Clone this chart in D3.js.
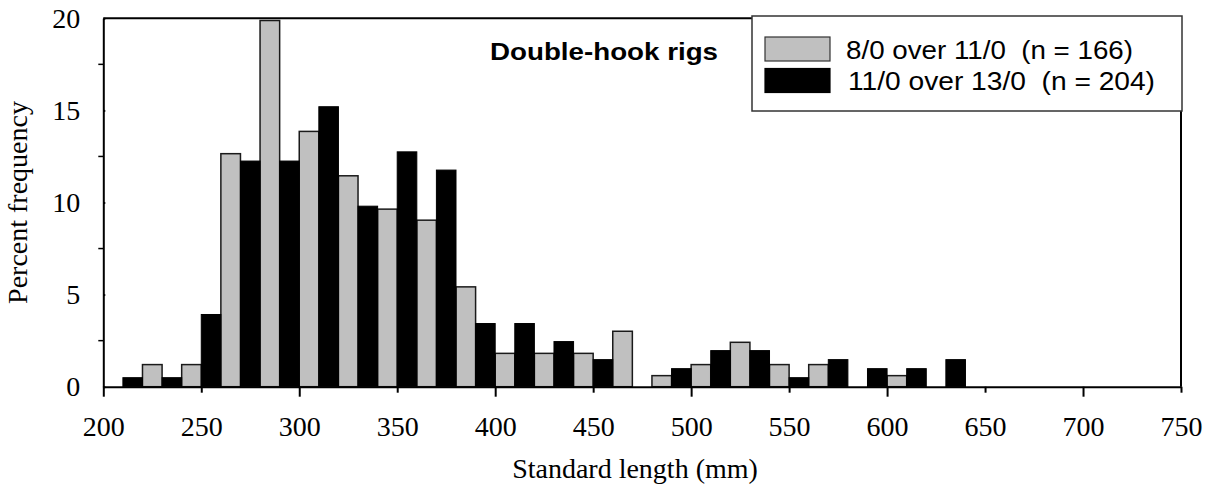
<!DOCTYPE html>
<html>
<head>
<meta charset="utf-8">
<script src="https://cdn.jsdelivr.net/npm/d3@7"></script>
<style>
  body { margin: 0; background: #fff; }
  svg { display: block; }
</style>
</head>
<body>
<div id="chart"></div>
<script>
// 20 mm bins, each bin holds two 10 mm bars (gray left, black right)
const binStarts = [200, 220, 240, 260, 280, 300, 320, 340, 360, 380, 400,
                   420, 440, 460, 480, 500, 520, 540, 560, 580, 600, 620];
const grayValues = [0, 1.20, 1.20, 12.65, 19.88, 13.86, 11.45, 9.64, 9.04, 5.42, 1.81,
                    1.81, 1.81, 3.01, 0.60, 1.20, 2.41, 1.20, 1.20, 0, 0.60, 0];
const blackValues = [0.49, 0.49, 3.92, 12.25, 12.25, 15.20, 9.80, 12.75, 11.76, 3.43, 3.43,
                     2.45, 1.47, 0, 0.98, 1.96, 1.96, 0.49, 1.47, 0.98, 0.98, 1.47];
const xTicks = [200, 250, 300, 350, 400, 450, 500, 550, 600, 650, 700, 750];
const yTicks = [0, 5, 10, 15, 20];
const yMinorTicks = [2.5, 7.5, 12.5, 17.5];
const seriesNames = ['8/0 over 11/0  (n = 166)', '11/0 over 13/0  (n = 204)'];

const width = 1212, height = 487;
const margin = {left: 103.3, right: 31, top: 18.3, bottom: 100.3};

const svg = d3.select('#chart').append('svg')
  .attr('width', width)
  .attr('height', height);

const x = d3.scaleLinear().domain([200, 750]).range([margin.left, width - margin.right]);
const y = d3.scaleLinear().domain([0, 20]).range([height - margin.bottom, margin.top]);

let bars = binStarts.map((b, i) => ({start: b, gray: grayValues[i], black: blackValues[i]}));

// gray bars
svg.append('g').selectAll('rect')
  .data(bars.filter(d => d.gray > 0))
  .enter().append('rect')
  .attr('x', d => x(d.start))
  .attr('width', d => x(d.start + 10) - x(d.start))
  .attr('y', d => y(d.gray))
  .attr('height', d => y(0) - y(d.gray))
  .attr('fill', '#c0c0c0')
  .attr('stroke', '#1a1a1a')
  .attr('stroke-width', 1.5);

// black bars
svg.append('g').selectAll('rect')
  .data(bars.filter(d => d.black > 0))
  .enter().append('rect')
  .attr('x', d => x(d.start + 10))
  .attr('width', d => x(d.start + 20) - x(d.start + 10))
  .attr('y', d => y(d.black))
  .attr('height', d => y(0) - y(d.black))
  .attr('fill', '#000')
  .attr('stroke', '#000')
  .attr('stroke-width', 1);

// frame: top and right
svg.append('line')
  .attr('x1', x(200)).attr('x2', x(750))
  .attr('y1', y(20)).attr('y2', y(20))
  .attr('stroke', '#000').attr('stroke-width', 2);
svg.append('line')
  .attr('x1', x(750)).attr('x2', x(750))
  .attr('y1', y(20)).attr('y2', y(0))
  .attr('stroke', '#000').attr('stroke-width', 2);

// x axis
let xAxis = svg.append('g')
  .attr('transform', 'translate(0,' + y(0) + ')')
  .call(d3.axisBottom(x).tickValues(xTicks).tickSize(6).tickSizeOuter(0).tickPadding(23)
    .tickFormat(d3.format('d')));
xAxis.select('.domain').attr('stroke-width', 2);
xAxis.selectAll('.tick line').attr('stroke-width', 2)
  .attr('y2', d => d % 100 === 0 ? 10 : 6);
xAxis.selectAll('.tick text')
  .style('font-family', '"Liberation Serif", "Times New Roman", serif')
  .style('font-size', '28px')
  .attr('fill', '#000');

// y axis
let yAxis = svg.append('g')
  .attr('transform', 'translate(' + x(200) + ',0)')
  .call(d3.axisLeft(y).tickValues(yTicks).tickSize(9).tickSizeOuter(0).tickPadding(14));
yAxis.select('.domain').attr('stroke-width', 2);
yAxis.selectAll('.tick line').attr('stroke-width', 2).attr('x2', 2);
yAxis.selectAll('.tick text')
  .style('font-family', '"Liberation Serif", "Times New Roman", serif')
  .style('font-size', '28px')
  .attr('fill', '#000');

svg.append('g')
  .attr('transform', 'translate(' + x(200) + ',0)')
  .selectAll('line')
  .data(yMinorTicks)
  .enter().append('line')
  .attr('x1', -5).attr('x2', 0)
  .attr('y1', d => y(d)).attr('y2', d => y(d))
  .attr('stroke', '#000').attr('stroke-width', 1.5);

// axis titles
svg.append('text')
  .attr('x', 635).attr('y', 478)
  .attr('text-anchor', 'middle')
  .style('font-family', '"Liberation Serif", "Times New Roman", serif')
  .style('font-size', '28px')
  .text('Standard length (mm)');

svg.append('text')
  .attr('transform', 'translate(27,' + ((y(0) + y(20)) / 2) + ')rotate(-90)')
  .attr('text-anchor', 'middle')
  .style('font-family', '"Liberation Serif", "Times New Roman", serif')
  .style('font-size', '28px')
  .text('Percent frequency');

// panel title
svg.append('text')
  .attr('x', 490).attr('y', 60)
  .style('font-family', '"Liberation Sans", Arial, sans-serif')
  .style('font-size', '24px')
  .style('font-weight', 'bold')
  .attr('textLength', 228)
  .attr('lengthAdjust', 'spacingAndGlyphs')
  .text('Double-hook rigs');

// legend
let legend = svg.append('g');
legend.append('rect')
  .attr('x', 752).attr('y', 16)
  .attr('width', 430).attr('height', 95)
  .attr('fill', '#fff')
  .attr('stroke', '#333')
  .attr('stroke-width', 1.5);

const legendFill = ['#c0c0c0', '#000'];
const legendLen = [287, 307];
seriesNames.forEach((name, i) => {
  legend.append('rect')
    .attr('x', 765).attr('y', 37 + i * 31.5)
    .attr('width', 65).attr('height', 24)
    .attr('fill', legendFill[i])
    .attr('stroke', i === 0 ? '#333' : '#000')
    .attr('stroke-width', 1.2);
  legend.append('text')
    .attr('x', 846 + i * 2).attr('y', 59 + i * 31)
    .style('font-family', '"Liberation Sans", Arial, sans-serif')
    .style('font-size', '25px')
    .style('white-space', 'pre')
    .attr('textLength', legendLen[i])
    .attr('lengthAdjust', 'spacingAndGlyphs')
    .text(name);
});
</script>
</body>
</html>
